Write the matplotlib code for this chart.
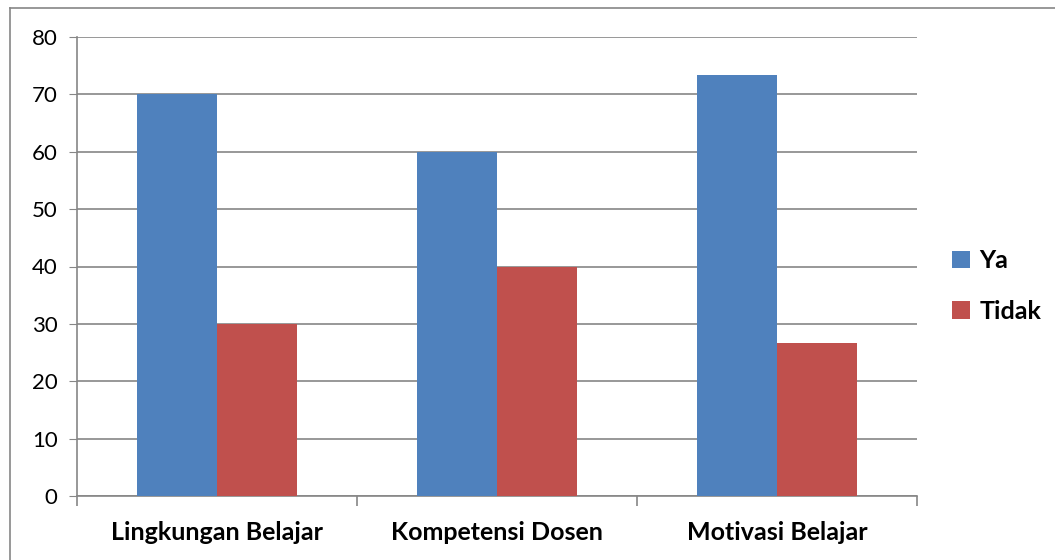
import numpy as np
import matplotlib.pyplot as plt
from matplotlib.lines import Line2D

categories = ['Lingkungan Belajar', 'Kompetensi Dosen', 'Motivasi Belajar']
ya = [70, 60, 73.3]
tidak = [30, 40, 26.7]
series_names = ['Ya', 'Tidak']
colors = ['#4F81BD', '#C0504D']

plt.rcParams['font.family'] = ['Lato', 'DejaVu Sans']

fig = plt.figure(figsize=(10.55, 5.6), dpi=100)
ax = fig.add_axes([77 / 1055, 1 - 496 / 560, 840 / 1055, 459 / 560])

x = np.arange(len(categories))
w = 80 / 280
ax.bar(x - w / 2, ya, w, color=colors[0], label=series_names[0], zorder=3)
ax.bar(x + w / 2, tidak, w, color=colors[1], label=series_names[1], zorder=3)

ax.set_xlim(-0.5, len(categories) - 0.5)
ax.set_ylim(0, 80)
ax.set_yticks(range(0, 81, 10))
ax.yaxis.grid(True, color='#868686', linewidth=1.2, zorder=0)
ax.tick_params(axis='y', labelsize=16, length=6, color='#868686', pad=8)

ax.set_xticks(x)
ax.set_xticklabels(categories, fontsize=18, fontweight='bold')
ax.tick_params(axis='x', length=0, pad=18)
ax.set_xticks(np.arange(-0.5, len(categories)), minor=True)
ax.tick_params(axis='x', which='minor', length=7, color='#868686', width=1.2)

for s in ['top', 'right']:
    ax.spines[s].set_visible(False)
for s in ['left', 'bottom']:
    ax.spines[s].set_color('#868686')
    ax.spines[s].set_linewidth(1.2)

leg = ax.legend(loc='center left', bbox_to_anchor=(1.015, 0.4575), frameon=False,
                prop={'size': 18, 'weight': 'bold'}, handlelength=0.7,
                handleheight=0.7, handletextpad=0.4, labelspacing=1.1)

# border of the figure (top and left only)
fig.add_artist(Line2D([10 / 1055, 1], [1 - 8 / 560, 1 - 8 / 560], color='#868686', lw=1.2))
fig.add_artist(Line2D([10 / 1055, 10 / 1055], [0, 1 - 8 / 560], color='#868686', lw=1.2))

fig.savefig('out.png', dpi=100)
